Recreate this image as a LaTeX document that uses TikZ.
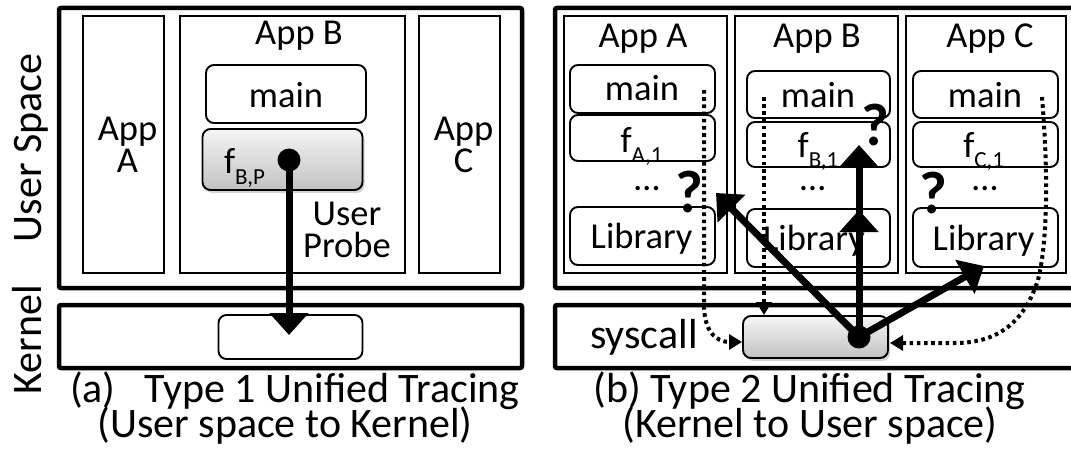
\documentclass[tikz,border=0pt]{standalone}
\usepackage{fontspec}
\setmainfont{Carlito}
\usetikzlibrary{arrows.meta,shadows}
\begin{document}
\begin{tikzpicture}[x=1pt,y=-1pt,
  every node/.style={inner sep=0pt,outer sep=0pt},
  outerbox/.style={draw,line width=4.5pt,rounded corners=2pt,rectangle},
  appbox/.style={draw,line width=2.3pt,rectangle},
  fnbox/.style={draw,line width=1.9pt,rounded corners=8pt,rectangle},
  grbox/.style={fnbox,top color=black!4,bottom color=black!24,
     drop shadow={shadow xshift=2pt,shadow yshift=-3pt,opacity=0.35}},
  txt/.style={anchor=base,font=\fontsize{36.5}{32}\selectfont},
  big/.style={anchor=base,font=\fontsize{42}{36}\selectfont},
  qm/.style={font=\bfseries\fontsize{60}{60}\selectfont},
  ell/.style={txt,text height=6pt},
  probe/.style={line width=7pt,-{Triangle[length=22pt,width=38pt]}},
  tracedot/.style={circle,fill=black,minimum size=23pt},
  dots/.style={line width=4pt,dash pattern=on 3.6pt off 3.6pt,-{Triangle[length=13pt,width=15pt]}},
]
\useasboundingbox (0,0) rectangle (1071,452);

% ---------- left panel ----------
\node[outerbox,minimum width=463pt,minimum height=280pt] (usrL) at (290.5,148) {};
\node[outerbox,minimum width=463pt,minimum height=63pt] (kerL) at (290.5,336.5) {};
\node[appbox,minimum width=81pt,minimum height=257pt] (appAL) at (123.5,144.5) {};
\node[appbox,minimum width=225pt,minimum height=257pt] (appBL) at (292.5,144.5) {};
\node[appbox,minimum width=81pt,minimum height=257pt] (appCL) at (459.5,144.5) {};
\node[fnbox,minimum width=160pt,minimum height=58pt] (mainL) at (286,94) {};
\node[grbox,minimum width=160pt,minimum height=61pt] (fbpL) at (282.5,159.5) {};
\node[fnbox,minimum width=144pt,minimum height=44pt] (kinL) at (290.5,337) {};

\node[txt] (tAB) at (299,45) {App B};
\node[txt] (tAL1) at (127.5,140) {App};
\node[txt] (tAL2) at (127.5,172) {A};
\node[txt] (tCL1) at (463.5,140) {App};
\node[txt] (tCL2) at (463.5,172) {C};
\node[txt] (tmL) at (286,107) {main};
\node[txt,anchor=base west] (tfL) at (224,173) {f\raisebox{-11pt}{\fontsize{23}{23}\selectfont B,P}};
\node[txt] (tup1) at (347,225) {User};
\node[txt] (tup2) at (347,257) {Probe};

\node[big,rotate=90] (us) at (41,148) {User Space};
\node[big,rotate=90] (kn) at (41,340) {Kernel};

\node[big,anchor=base west] (capA1) at (70,402) {(a)\hspace{29pt}Type 1 Unified Tracing};
\node[big] (capA2) at (285,437) {(User space to Kernel)};

\node[tracedot] (dotL) at (289,160) {};
\coordinate (tipL) at (289,335);
\draw[probe] (dotL.center) -- (tipL);

% ---------- right panel ----------
\node[outerbox,minimum width=525pt,minimum height=280pt] (usrR) at (817.5,148) {};
\node[outerbox,minimum width=525pt,minimum height=63pt] (kerR) at (817.5,336.5) {};
\node[appbox,minimum width=163pt,minimum height=257pt] (appAR) at (645.5,144.5) {};
\node[appbox,minimum width=163pt,minimum height=257pt] (appBR) at (816.5,144.5) {};
\node[appbox,minimum width=160pt,minimum height=257pt] (appCR) at (986,144.5) {};

\node[fnbox,minimum width=145pt,minimum height=48pt] (mainA) at (642.5,89) {};
\node[fnbox,minimum width=145pt,minimum height=46pt] (fA) at (642.5,138) {};
\node[fnbox,minimum width=145pt,minimum height=58pt] (libA) at (642.5,236) {};
\node[fnbox,minimum width=143pt,minimum height=47pt] (mainB) at (818.5,94.5) {};
\node[fnbox,minimum width=143pt,minimum height=45pt] (fB) at (818.5,144.5) {};
\node[fnbox,minimum width=143pt,minimum height=58pt] (libB) at (818.5,238) {};
\node[fnbox,minimum width=145pt,minimum height=47pt] (mainC) at (985.5,94.5) {};
\node[fnbox,minimum width=145pt,minimum height=45pt] (fC) at (985.5,144.5) {};
\node[fnbox,minimum width=145pt,minimum height=59pt] (libC) at (985.5,237.5) {};
\node[grbox,minimum width=145pt,minimum height=42pt] (sysbox) at (815.5,337) {};

\node[txt] (tAA) at (643,48) {App A};
\node[txt] (tBB) at (817,48) {App B};
\node[txt] (tCC) at (990,48) {App C};
\node[txt] (tmA) at (642,100) {main};
\node[txt] (tmB) at (818,107) {main};
\node[txt] (tmC) at (985,107) {main};
\node[txt] (tfA) at (641.6,152) {f\raisebox{-10pt}{\fontsize{23}{23}\selectfont A,1}};
\node[txt] (tfB) at (818,157) {f\raisebox{-10pt}{\fontsize{23}{23}\selectfont B,1}};
\node[txt] (tfC) at (983.6,157) {f\raisebox{-10pt}{\fontsize{23}{23}\selectfont C,1}};
\node[ell] (eA) at (647,190) {…};
\node[ell] (eB) at (812.6,190) {…};
\node[ell] (eC) at (985,190) {…};
\node[txt] (tlA) at (641.6,248) {Library};
\node[txt] (tlB) at (814,250) {Library};
\node[txt] (tlC) at (983.6,250) {Library};
\node[qm] (qA) at (689,192) {?};
\node[qm] (qB) at (875,125) {?};
\node[qm] (qC) at (933,193) {?};

\node[big] (sys) at (644,348) {syscall};

\node[big] (capB1) at (809.5,402) {(b) Type 2 Unified Tracing};
\node[big] (capB2) at (810,437) {(Kernel to User space)};

% dotted syscall paths
\coordinate (dA0) at (704,90);
\coordinate (dA1) at (742,342);
\coordinate (dB0) at (764,97);
\coordinate (dB1) at (764,315);
\coordinate (dC0) at (1042,97);
\coordinate (dC1) at (890,343);
\draw[dots] (dA0) -- (704,305) .. controls (704,330) and (715,342) .. (dA1);
\draw[dots] (dB0) -- (dB1);
\draw[dots] (dC0) .. controls (1048,170) and (1048,240) .. (1038,280)
   .. controls (1025,320) and (1000,343) .. (955,343) -- (dC1);

% kernel-to-user probes
\node[tracedot] (dotR) at (859,337) {};
\coordinate (tipA) at (716,193);
\coordinate (tipB) at (859,145);
\coordinate (midB) at (859,210);
\coordinate (tipC) at (984,266);
\draw[probe] (dotR.center) -- (tipA);
\draw[probe] (dotR.center) -- (tipB);
\draw[probe] (dotR.center) -- (midB);
\draw[probe] (dotR.center) -- (tipC);
\end{tikzpicture}
\end{document}
